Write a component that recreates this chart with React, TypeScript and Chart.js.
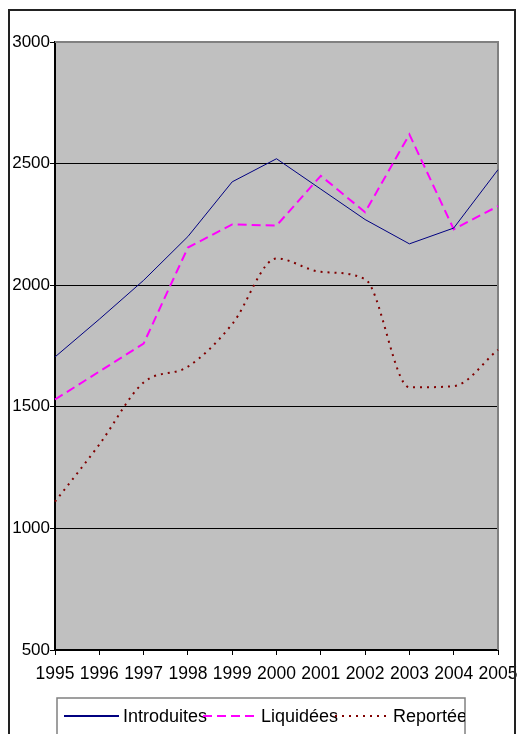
import React, { useEffect, useRef } from "react";
import { Chart, registerables } from "chart.js";

Chart.register(...registerables);

const years = ["1995", "1996", "1997", "1998", "1999", "2000", "2001", "2002", "2003", "2004", "2005"];
const introduites = [1705, 1860, 2020, 2200, 2425, 2520, 2395, 2270, 2170, 2235, 2475];
const liquidees = [1530, 1645, 1760, 2155, 2250, 2245, 2450, 2300, 2620, 2230, 2325];
const reportees = [1110, 1345, 1600, 1665, 1840, 2110, 2055, 2025, 1580, 1585, 1735];
const yTicks = [500, 1000, 1500, 2000, 2500, 3000];

const FONT = '"Liberation Sans", Arial, sans-serif';

const legendItems = [
  { label: "Introduites", color: "#000080", dash: [] as number[], width: 2, x0: 64, x1: 119, tx: 123 },
  { label: "Liquidées", color: "#FF00FF", dash: [9, 5], width: 2, x0: 203, x1: 257, tx: 261 },
  { label: "Reportées", color: "#800000", dash: [2, 5], width: 2, x0: 335, x1: 387, tx: 393 },
];

const framePlugin = {
  id: "frame",
  beforeDraw(chart: any) {
    const { ctx, chartArea: a, width, height } = chart;
    ctx.save();
    ctx.fillStyle = "#ffffff";
    ctx.fillRect(0, 0, width, height);
    // plot area
    ctx.fillStyle = "#C0C0C0";
    ctx.fillRect(a.left, a.top, a.right - a.left, a.bottom - a.top);
    ctx.restore();
  },
  beforeDatasetsDraw(chart: any) {
    const { ctx, chartArea: a } = chart;
    ctx.save();
    ctx.strokeStyle = "#808080";
    ctx.lineWidth = 2;
    ctx.beginPath();
    ctx.moveTo(a.left, a.top);
    ctx.lineTo(a.right, a.top);
    ctx.lineTo(a.right, a.bottom);
    ctx.stroke();
    ctx.restore();
  },
  afterDraw(chart: any) {
    const { ctx, height } = chart;
    ctx.save();
    // outer chart border
    ctx.strokeStyle = "#222222";
    ctx.lineWidth = 2;
    ctx.strokeRect(9, 10, 506, height + 20);
    // legend box
    ctx.fillStyle = "#ffffff";
    ctx.fillRect(57, 698, 408, 60);
    ctx.strokeStyle = "#808080";
    ctx.lineWidth = 1.5;
    ctx.strokeRect(57, 698, 408, 60);
    ctx.beginPath();
    ctx.rect(57, 698, 408, 60);
    ctx.clip();
    ctx.font = `18px ${FONT}`;
    ctx.textBaseline = "alphabetic";
    ctx.textAlign = "left";
    for (const it of legendItems) {
      ctx.strokeStyle = it.color;
      ctx.lineWidth = it.width;
      ctx.setLineDash(it.dash);
      ctx.beginPath();
      ctx.moveTo(it.x0, 716);
      ctx.lineTo(it.x1, 716);
      ctx.stroke();
      ctx.setLineDash([]);
      ctx.fillStyle = "#000000";
      ctx.fillText(it.label, it.tx, 722);
    }
    ctx.restore();
  },
};

export default function App() {
  const ref = useRef<HTMLCanvasElement | null>(null);

  useEffect(() => {
    if (!ref.current) return;
    const chart = new Chart(ref.current, {
      type: "line",
      data: {
        labels: years,
        datasets: [
          {
            label: "Introduites",
            data: introduites,
            borderColor: "#000080",
            borderWidth: 1,
            pointRadius: 0,
            tension: 0,
            fill: false,
          },
          {
            label: "Liquidées",
            data: liquidees,
            borderColor: "#FF00FF",
            borderWidth: 2,
            borderDash: [9, 5],
            pointRadius: 0,
            tension: 0,
            fill: false,
          },
          {
            label: "Reportées",
            data: reportees,
            borderColor: "#800000",
            borderWidth: 2,
            borderDash: [2, 5],
            pointRadius: 0,
            cubicInterpolationMode: "monotone",
            fill: false,
          },
        ],
      },
      options: {
        responsive: false,
        animation: false,
        events: [],
        layout: { padding: { top: 42, right: 25, left: 0, bottom: 0 } },
        plugins: { legend: { display: false }, tooltip: { enabled: false } },
        scales: {
          x: {
            offset: false,
            afterFit(scale: any) {
              scale.height = 84;
              scale.paddingLeft = 0;
              scale.paddingRight = 0;
            },
            grid: { drawOnChartArea: false, tickColor: "#000000", tickLength: 5, lineWidth: 1 },
            border: { color: "#000000", width: 2 },
            ticks: {
              color: "#000000",
              font: { family: FONT, size: 17.5 },
              padding: 9,
              maxRotation: 0,
              autoSkip: false,
            },
          },
          y: {
            min: 500,
            max: 3000,
            afterFit(scale: any) {
              scale.width = 55;
              scale.paddingTop = 0;
              scale.paddingBottom = 0;
            },
            afterBuildTicks(scale: any) {
              scale.ticks = yTicks.map((v) => ({ value: v }));
            },
            grid: {
              color: (c: any) =>
                c.tick && (c.tick.value === 3000 || c.tick.value === 500) ? "rgba(0,0,0,0)" : "#000000",
              tickColor: "#000000",
              tickLength: 5,
              lineWidth: 1,
            },
            border: { color: "#000000", width: 2 },
            ticks: {
              color: "#000000",
              font: { family: FONT, size: 17 },
              padding: 0,
              callback: (v: any) => String(v),
            },
          },
        },
      },
      plugins: [framePlugin],
    });
    return () => chart.destroy();
  }, []);

  return (
    <div style={{ position: "fixed", left: 0, top: 0, width: 523, height: 734, background: "#fff" }}>
      <canvas ref={ref} width={523} height={734} style={{ display: "block", width: 523, height: 734 }} />
    </div>
  );
}
